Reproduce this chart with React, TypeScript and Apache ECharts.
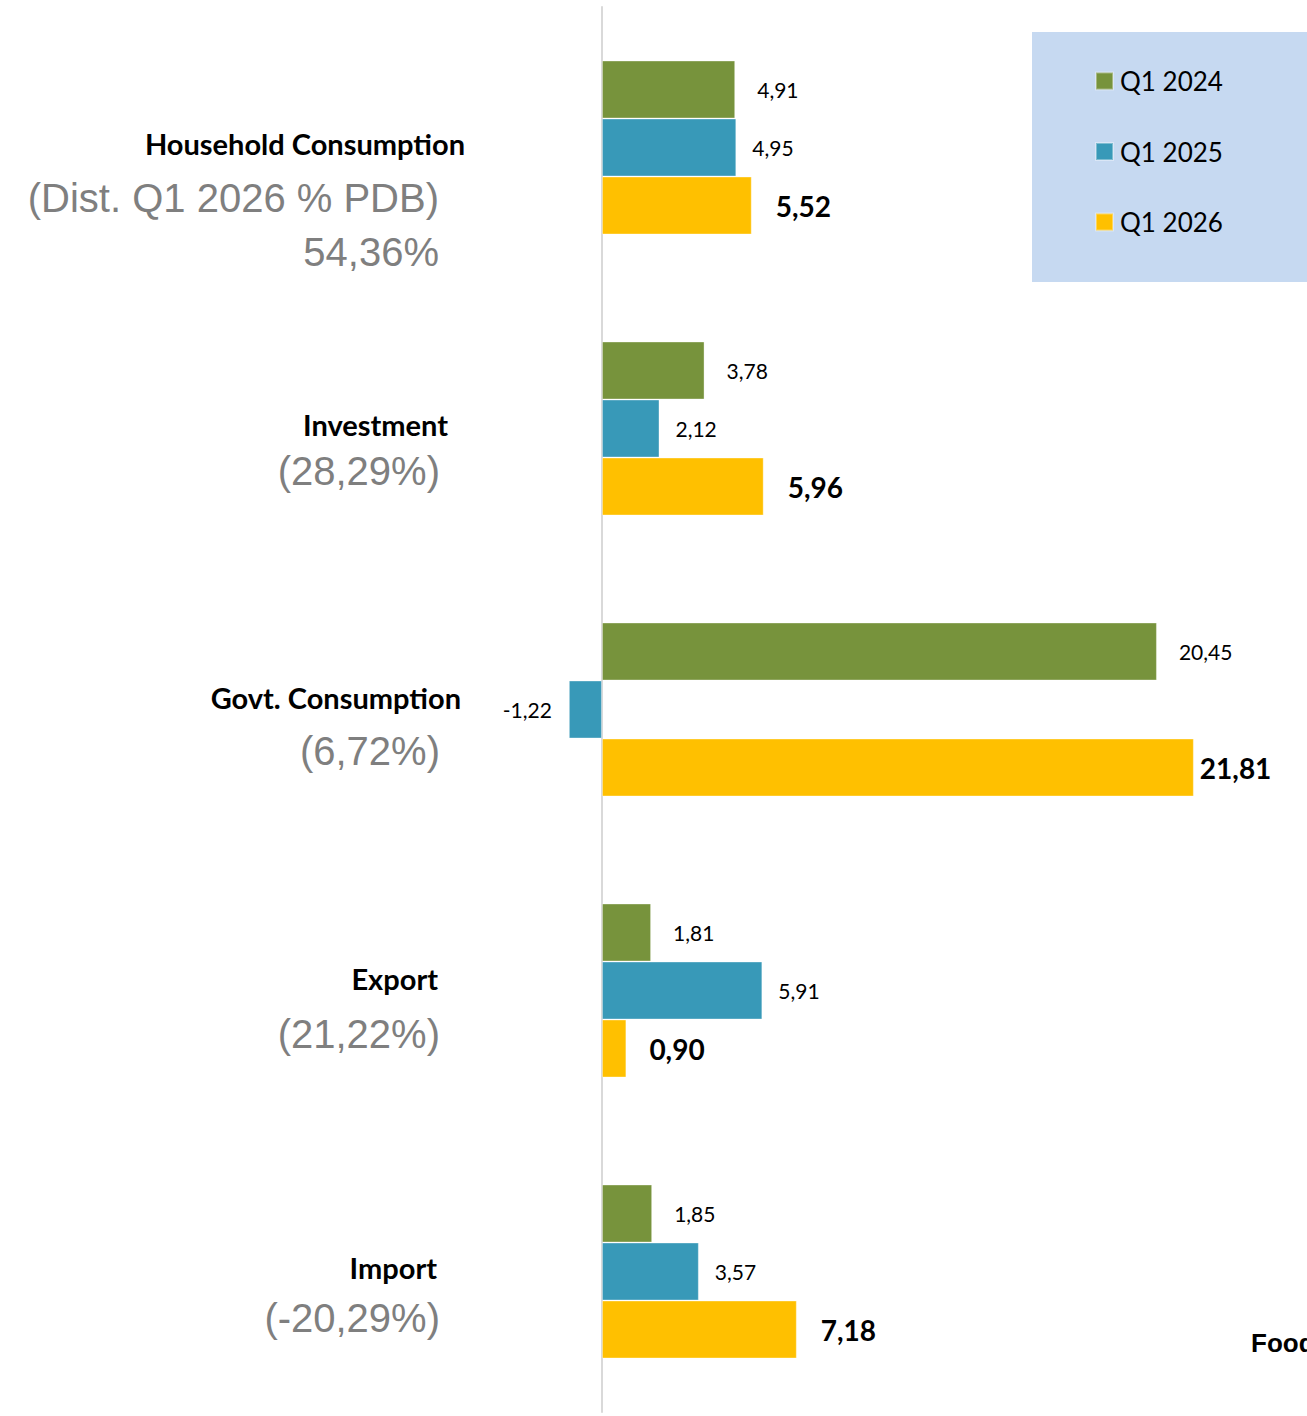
import React, { useEffect, useRef } from "react";
import * as echarts from "echarts";

const categories = ["Household Consumption", "Investment", "Govt. Consumption", "Export", "Import"];
const shares = ["(Dist. Q1 2026 % PDB)\n54,36%", "(28,29%)", "(6,72%)", "(21,22%)", "(-20,29%)"];
const seriesNames = ["Q1 2024", "Q1 2025", "Q1 2026"];
const q2024 = [4.91, 3.78, 20.45, 1.81, 1.85];
const q2025 = [4.95, 2.12, -1.22, 5.91, 3.57];
const q2026 = [5.52, 5.96, 21.81, 0.9, 7.18];
const colors = ["#77933c", "#3899b8", "#ffc000"];

// label gaps per series / per category (styling only)
const labelGap = [
  [22, 22, 22, 22, 22],
  [16, 16, 17, 16, 16],
  [24, 24, 6, 23, 24],
];

// text layout for the left-side labels (right edge x, vertical offset from band centre)
const titleLayout = [
  [465, -4],
  [448, -4],
  [461, -12],
  [438, -12],
  [437, -4],
];
const shareLayout = [
  [439, 77],
  [440, 42],
  [440, 41],
  [440, 43],
  [440, 46],
];

const fmt = (v: number) => v.toFixed(2).replace(".", ",");

export default function App() {
  const ref = useRef<HTMLDivElement>(null);
  useEffect(() => {
    const chart = echarts.init(ref.current!, null, { renderer: "svg" });
    const mk = (vals: number[], idx: number) => {
      const bold = idx === 2;
      return {
        name: seriesNames[idx],
        type: "bar",
        barWidth: 58,
        barGap: "0%",
        itemStyle: { color: colors[idx], borderColor: "rgba(255,255,255,0.35)", borderWidth: 1 },
        label: {
          show: true,
          position: "right",
          fontFamily: "Lato",
          fontSize: bold ? 28 : 21,
          fontWeight: bold ? "bold" : "normal",
          color: "#000",
          formatter: (p: any) => fmt(p.value),
        },
        data: vals.map((v, i) =>
          v < 0
            ? { value: v, label: { position: "left", distance: labelGap[idx][i] } }
            : { value: v, label: { distance: labelGap[idx][i] } }
        ),
      };
    };
    chart.setOption({
      animation: false,
      backgroundColor: "#ffffff",
      grid: { left: 493.4, width: 705.6, top: 7, height: 1405 },
      xAxis: {
        type: "value",
        min: -4,
        max: 22,
        show: false,
        splitLine: { show: false },
      },
      yAxis: {
        type: "category",
        data: categories,
        inverse: true,
        axisLabel: { show: false },
        axisTick: { show: false },
        axisLine: { show: true, onZero: true, lineStyle: { color: "#d9d9d9", width: 2 } },
      },
      legend: {
        orient: "vertical",
        left: 1095,
        top: 68,
        padding: 0,
        itemWidth: 17,
        itemHeight: 17,
        itemGap: 44.5,
        icon: "rect",
        data: seriesNames,
        textStyle: { fontFamily: "Lato", fontSize: 26, color: "#000", lineHeight: 26, padding: [0, 0, 0, 2] },
      },
      series: [mk(q2024, 0), mk(q2025, 1), mk(q2026, 2)],
    });

    const graphics: any[] = [
      {
        type: "rect",
        z: 0,
        shape: { x: 1032, y: 32, width: 275, height: 250 },
        style: { fill: "#c6d9f1" },
      },
      {
        type: "text",
        x: 1251,
        y: 1343,
        style: {
          text: "Food",
          font: "bold 26px 'Liberation Sans', Arial, sans-serif",
          fill: "#000",
          textVerticalAlign: "middle",
        },
      },
    ];
    categories.forEach((c, i) => {
      const cy = chart.convertToPixel({ yAxisIndex: 0 }, c) as number;
      graphics.push({
        type: "text",
        x: titleLayout[i][0],
        y: cy + titleLayout[i][1],
        style: {
          text: c,
          font: "bold 29px Lato, sans-serif",
          fill: "#000",
          textAlign: "right",
          textVerticalAlign: "middle",
        },
      });
      graphics.push({
        type: "text",
        x: shareLayout[i][0],
        y: cy + shareLayout[i][1],
        style: {
          text: shares[i],
          font: "40px 'Liberation Sans', Arial, sans-serif",
          lineHeight: 54,
          fill: "#7f7f7f",
          textAlign: "right",
          textVerticalAlign: "middle",
        },
      });
    });
    chart.setOption({ graphic: graphics });
    return () => chart.dispose();
  }, []);
  return (
    <div
      ref={ref}
      style={{ position: "absolute", left: 0, top: 0, width: 1307, height: 1416, background: "#fff" }}
    />
  );
}
